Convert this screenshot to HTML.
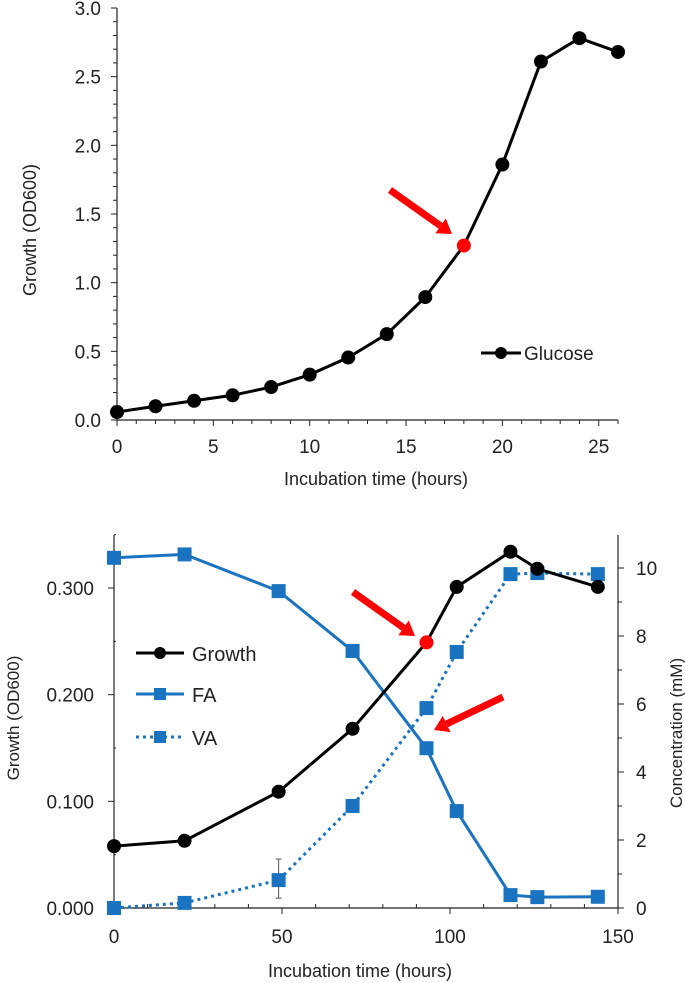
<!DOCTYPE html>
<html><head><meta charset="utf-8"><style>
body{margin:0;background:#fff}
svg{display:block;font-family:"Liberation Sans",Arial,sans-serif}
text{fill:#222}
</style></head><body>
<svg id="c" width="685" height="983"></svg>
<script>
const topX=[0,2,4,6,8,10,12,14,16,18,20,22,24,26];
const topGrowth=[0.058,0.10,0.14,0.18,0.24,0.33,0.455,0.625,0.895,1.27,1.86,2.61,2.78,2.68];
const topXTicks=[0,5,10,15,20,25];
const topYTicks=["0.0","0.5","1.0","1.5","2.0","2.5","3.0"];
const botX=[0,21,49,71,93,102,118,126,144];
const botGrowth=[0.058,0.063,0.109,0.168,0.249,0.301,0.334,0.318,0.301];
const botFA=[10.3,10.4,9.32,7.56,4.7,2.85,0.38,0.32,0.33];
const botVA=[0,0.15,0.82,3.0,5.88,7.53,9.82,9.85,9.82];
const botXTicks=[0,50,100,150];
const botYTicks=["0.000","0.100","0.200","0.300"];
const botY2Ticks=[0,2,4,6,8,10];
const NS="http://www.w3.org/2000/svg";
const svg=document.getElementById('c');
function mk(t,a,p){const e=document.createElementNS(NS,t);for(const k in a)e.setAttribute(k,a[k]);(p||svg).appendChild(e);return e;}
function txt(x,y,s,a){const e=mk('text',Object.assign({x:x,y:y,'font-size':18},a||{}));e.textContent=s;return e;}
// ---- top chart
const tx=v=>117+v*(618-117)/26, ty=v=>420-v*(420-8)/3;
mk('line',{x1:117,y1:8,x2:117,y2:420,stroke:'#222','stroke-width':1.2});
mk('line',{x1:117,y1:420,x2:618,y2:420,stroke:'#222','stroke-width':1.2});
for(let i=0;i<=30;i++){mk('line',{x1:i%5?113:111,y1:ty(i/10),x2:117,y2:ty(i/10),stroke:'#222'});}
for(let i=0;i<=26;i++){mk('line',{x1:tx(i),y1:420,x2:tx(i),y2:i%5?424:426,stroke:'#222'});}
topYTicks.forEach((s,i)=>{const e=txt(101,ty(i*0.5)+7,s,{'text-anchor':'end','font-size':19});});
topXTicks.forEach(v=>{const e=txt(tx(v),453,String(v),{'text-anchor':'middle','font-size':19});});
let e=txt(376,485,'Incubation time (hours)',{'text-anchor':'middle'});
e=txt(0,0,'Growth (OD600)',{'text-anchor':'middle',transform:'translate(36,230) rotate(-90)'});
e=mk('polyline',{points:topX.map((x,i)=>tx(x)+','+ty(topGrowth[i])).join(' '),fill:'none',stroke:'#000','stroke-width':3});

topX.forEach((x,i)=>{const c=mk('circle',{cx:tx(x),cy:ty(topGrowth[i]),r:7,fill:i==9?'#f00':'#000'});});
mk('line',{x1:481,y1:353,x2:521,y2:353,stroke:'#000','stroke-width':3});
mk('circle',{cx:501,cy:353,r:6,fill:'#000'});
e=txt(524,360,'Glucose',{'font-size':19});
function arrow(x1,y1,x2,y2,name){const g=mk('g',{});
 const dx=x2-x1,dy=y2-y1,L=Math.hypot(dx,dy),ux=dx/L,uy=dy/L,bx=x2-ux*14,by=y2-uy*14;
 mk('line',{x1:x1,y1:y1,x2:bx,y2:by,stroke:'#f00','stroke-width':7},g);
 mk('polygon',{points:`${x2},${y2} ${bx-uy*9},${by+ux*9} ${bx+uy*9},${by-ux*9}`,fill:'#f00'},g);}
arrow(390,190,452,234,'top-arrow');
// ---- bottom chart
const bx=v=>114+v*(618-114)/150, by=v=>908-v*(908-588)/0.3, by2=v=>908-v*(908-568)/10;
mk('line',{x1:114,y1:535,x2:114,y2:908,stroke:'#222','stroke-width':1.2});
mk('line',{x1:114,y1:908,x2:618,y2:908,stroke:'#222','stroke-width':1.2});
mk('line',{x1:618,y1:535,x2:618,y2:908,stroke:'#222','stroke-width':1.2});
for(let i=0;i<=7;i++)mk('line',{x1:i%2?116:108,y1:by(i*0.05),x2:114,y2:by(i*0.05),stroke:'#222'});
for(let i=0;i<=10;i++)mk('line',{x1:618,y1:by2(i),x2:i%2?622:624,y2:by2(i),stroke:'#222'});
for(let i=0;i<=15;i++)mk('line',{x1:bx(i*10),y1:908,x2:bx(i*10),y2:i%5?904:914,stroke:'#222'});
botYTicks.forEach((s,i)=>{const e=txt(94,by(i*0.1)+7,s,{'text-anchor':'end','font-size':19});});
botY2Ticks.forEach(v=>{const e=txt(636,by2(v)+7,String(v),{'font-size':19});});
botXTicks.forEach(v=>{const e=txt(bx(v),943,String(v),{'text-anchor':'middle','font-size':19});});
e=txt(360,977,'Incubation time (hours)',{'text-anchor':'middle'});
e=txt(0,0,'Growth (OD600)',{'text-anchor':'middle','font-size':17,transform:'translate(19,718) rotate(-90)'});
e=txt(0,0,'Concentration (mM)',{'text-anchor':'middle','font-size':17,transform:'translate(682,733) rotate(-90)'});
// error bar
mk('line',{x1:bx(49),y1:by2(1.44),x2:bx(49),y2:by2(0.29),stroke:'#555','stroke-width':1});
mk('line',{x1:bx(49)-3,y1:by2(1.44),x2:bx(49)+3,y2:by2(1.44),stroke:'#555'});
mk('line',{x1:bx(49)-3,y1:by2(0.29),x2:bx(49)+3,y2:by2(0.29),stroke:'#555'});
e=mk('polyline',{points:botX.map((x,i)=>bx(x)+','+by2(botVA[i])).join(' '),fill:'none',stroke:'#1a73c0','stroke-width':3,'stroke-dasharray':'3 4'});

e=mk('polyline',{points:botX.map((x,i)=>bx(x)+','+by2(botFA[i])).join(' '),fill:'none',stroke:'#1a73c0','stroke-width':3});

e=mk('polyline',{points:botX.map((x,i)=>bx(x)+','+by(botGrowth[i])).join(' '),fill:'none',stroke:'#000','stroke-width':3});

botX.forEach((x,i)=>{let r=mk('rect',{x:bx(x)-7,y:by2(botVA[i])-7,width:14,height:14,fill:'#1a73c0'});
 r=mk('rect',{x:bx(x)-7,y:by2(botFA[i])-7,width:14,height:14,fill:'#1a73c0'});});
botX.forEach((x,i)=>{const c=mk('circle',{cx:bx(x),cy:by(botGrowth[i]),r:7,fill:i==4?'#f00':'#000'});});
// legend
mk('line',{x1:136,y1:653,x2:184,y2:653,stroke:'#000','stroke-width':3});mk('circle',{cx:160,cy:653,r:6,fill:'#000'});
e=txt(192,661,'Growth',{'font-size':20});
mk('line',{x1:136,y1:694,x2:184,y2:694,stroke:'#1a73c0','stroke-width':3});mk('rect',{x:154,y:688,width:12,height:12,fill:'#1a73c0'});
e=txt(192,702,'FA',{'font-size':20});
mk('line',{x1:136,y1:737,x2:184,y2:737,stroke:'#1a73c0','stroke-width':3,'stroke-dasharray':'3 4'});mk('rect',{x:154,y:731,width:12,height:12,fill:'#1a73c0'});
e=txt(192,745,'VA',{'font-size':20});
arrow(353,592,415,636,'growth-arrow');
arrow(503,697,434,730,'fa-arrow');
</script>
</body></html>
